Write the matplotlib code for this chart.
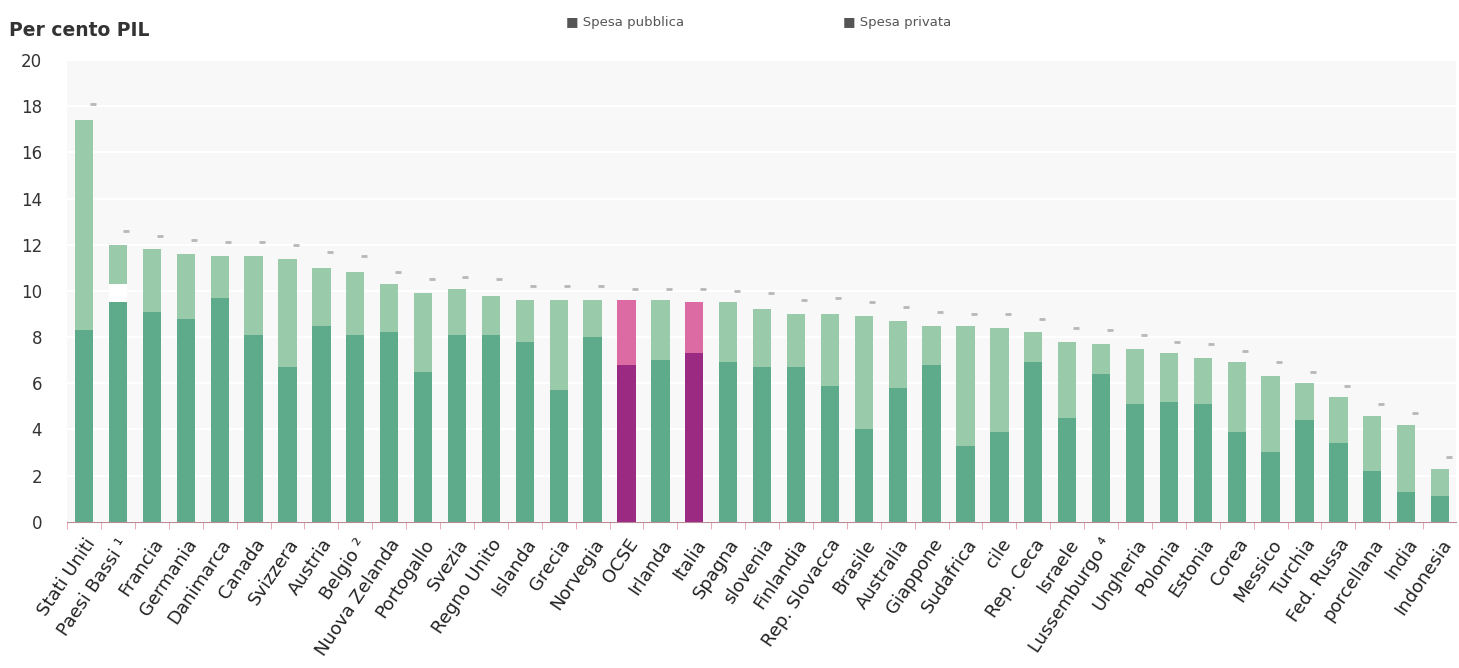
import matplotlib.pyplot as plt
import numpy as np

plt.rcParams['font.family'] = ['DejaVu Sans']

paesi = ["Stati Uniti", "Paesi Bassi ¹", "Francia", "Germania", "Danimarca", "Canada",
         "Svizzera", "Austria", "Belgio ²", "Nuova Zelanda", "Portogallo", "Svezia",
         "Regno Unito", "Islanda", "Grecia", "Norvegia", "OCSE", "Irlanda", "Italia",
         "Spagna", "slovenia", "Finlandia", "Rep. Slovacca", "Brasile", "Australia",
         "Giappone", "Sudafrica", "cile", "Rep. Ceca", "Israele", "Lussemburgo ⁴",
         "Ungheria", "Polonia", "Estonia", "Corea", "Messico", "Turchia", "Fed. Russa",
         "porcellana", "India", "Indonesia"]

# spesa pubblica (% PIL)
pubblica = [8.3, 9.5, 9.1, 8.8, 9.7, 8.1, 6.7, 8.5, 8.1, 8.2, 6.5, 8.1,
            8.1, 7.8, 5.7, 8.0, 6.8, 7.0, 7.3, 6.9, 6.7, 6.7, 5.9, 4.0,
            5.8, 6.8, 3.3, 3.9, 6.9, 4.5, 6.4, 5.1, 5.2, 5.1, 3.9, 3.0,
            4.4, 3.4, 2.2, 1.3, 1.1]
# parte non separabile (solo Paesi Bassi)
non_separabile = [0] * len(paesi)
non_separabile[1] = 0.8
# spesa totale (% PIL)
totale = [17.4, 12.0, 11.8, 11.6, 11.5, 11.5, 11.4, 11.0, 10.8, 10.3, 9.9, 10.1,
          9.8, 9.6, 9.6, 9.6, 9.6, 9.6, 9.5, 9.5, 9.2, 9.0, 9.0, 8.9,
          8.7, 8.5, 8.5, 8.4, 8.2, 7.8, 7.7, 7.5, 7.3, 7.1, 6.9, 6.3,
          6.0, 5.4, 4.6, 4.2, 2.3]
# indicatore sopra le barre
indicatore = [18.1, 12.6, 12.4, 12.2, 12.1, 12.1, 12.0, 11.7, 11.5, 10.8, 10.5, 10.6,
              10.5, 10.2, 10.2, 10.2, 10.1, 10.1, 10.1, 10.0, 9.9, 9.6, 9.7, 9.5,
              9.3, 9.1, 9.0, 9.0, 8.8, 8.4, 8.3, 8.1, 7.8, 7.7, 7.4, 6.9,
              6.5, 5.9, 5.1, 4.7, 2.8]

pubblica = np.array(pubblica)
non_separabile = np.array(non_separabile)
totale = np.array(totale)
privata = totale - pubblica - non_separabile

x = np.arange(len(paesi))
evidenza = [p in ("OCSE", "Italia") for p in paesi]
col_pub = ['#9b2a82' if e else '#5eab8c' for e in evidenza]
col_priv = ['#dc6aa3' if e else '#99caa9' for e in evidenza]

fig = plt.figure(figsize=(14.59, 6.68), dpi=100)
ax = fig.add_axes([0.046, 0.219, 0.952, 0.691])
ax.set_facecolor('#f8f8f8')
ax.grid(axis='y', color='white', linewidth=1.5)
ax.set_axisbelow(True)

w = 0.54
ax.bar(x, pubblica, w, color=col_pub)
ax.bar(x, non_separabile, w, bottom=pubblica, color='white')
ax.bar(x, privata, w, bottom=pubblica + non_separabile, color=col_priv)
ax.plot(x + 0.25, indicatore, linestyle='none', marker='_', markersize=5,
        color='#b8b8b8', markeredgewidth=2)

ax.set_xlim(-0.5, 40.47)
ax.set_ylim(0, 20)
ax.set_yticks(range(0, 21, 2))
ax.tick_params(axis='y', length=0, labelsize=12, colors='#333333', pad=18)
ax.set_xticks(x)
ax.set_xticklabels(paesi, rotation=56, ha='right', rotation_mode='anchor',
                   fontsize=13, color='#222222')
ax.tick_params(axis='x', which='major', length=0, pad=10)
ax.set_xticks(x - 0.5, minor=True)
ax.tick_params(axis='x', which='minor', length=5, color='#e89aa8')
for s in ['top', 'right', 'left']:
    ax.spines[s].set_visible(False)
ax.spines['bottom'].set_color('#b98a95')

fig.text(0.006, 0.955, "Per cento PIL", fontsize=13.5, fontweight='bold',
         color='#333333', va='center')
fig.text(0.388, 0.967, "■ Spesa pubblica", fontsize=9.5, color='#555555', va='center')
fig.text(0.578, 0.967, "■ Spesa privata", fontsize=9.5, color='#555555', va='center')

fig.savefig('out.png', dpi=100)
